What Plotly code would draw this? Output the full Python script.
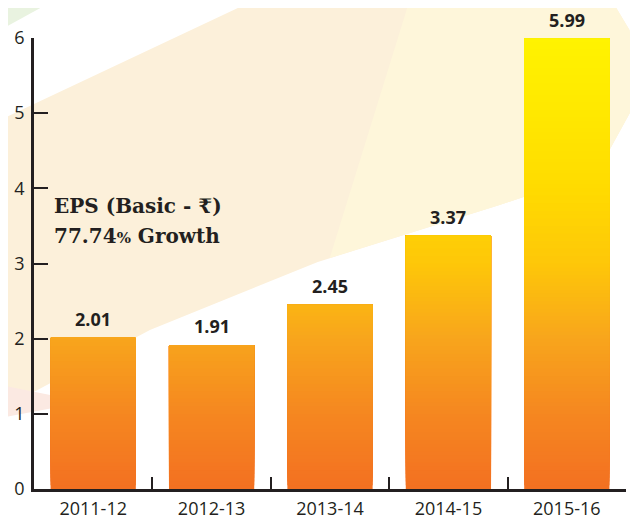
import plotly.graph_objects as go

categories = ["2011-12", "2012-13", "2013-14", "2014-15", "2015-16"]
eps_values = [2.01, 1.91, 2.45, 3.37, 5.99]
value_labels = ["2.01", "1.91", "2.45", "3.37", "5.99"]
y_ticks = [0, 1, 2, 3, 4, 5, 6]
title_line1 = "EPS (Basic - ₹)"
title_line2 = "77.74<span style='font-size:15px'>%</span> Growth"

# gradient stops: (value, rgb)
grad_stops = [
    (0.0, (243, 112, 33)),
    (1.0, (245, 135, 32)),
    (2.0, (248, 165, 28)),
    (3.0, (254, 199, 9)),
    (4.0, (255, 219, 0)),
    (5.0, (255, 232, 0)),
    (6.0, (255, 243, 0)),
]


def grad_color(v):
    for (v0, c0), (v1, c1) in zip(grad_stops[:-1], grad_stops[1:]):
        if v <= v1:
            t = (v - v0) / (v1 - v0)
            c = [round(a + (b - a) * t) for a, b in zip(c0, c1)]
            return f"rgb({c[0]},{c[1]},{c[2]})"
    c = grad_stops[-1][1]
    return f"rgb({c[0]},{c[1]},{c[2]})"


# page body has an 8px margin; figure is sized to fill the rest
OFF = 8
W, H = 638, 519
L, R, T, B = 34, 11.5, 38, 30          # in screenshot pixels
pw, ph = W - L - R, H - T - B


def px(x):
    return (x - L) / pw


def py(y):
    return (H - B - y) / ph


fig = go.Figure()

step = 0.05
nseg = int(max(eps_values) / step) + 1
for k in range(nseg):
    base = k * step
    xs, hs, bs = [], [], []
    for c, v in zip(categories, eps_values):
        if v > base + 1e-9:
            xs.append(c)
            hs.append(v - base)
            bs.append(base)
    if not xs:
        continue
    fig.add_trace(go.Bar(
        x=xs, y=hs, base=bs, width=0.72,
        marker=dict(color=grad_color(base + step / 2), line=dict(width=0)),
        showlegend=False, hoverinfo="skip",
    ))

for c, v, t in zip(categories, eps_values, value_labels):
    fig.add_annotation(x=c, y=v, text=t, showarrow=False, yanchor="bottom", yshift=5,
                       font=dict(family="Open Sans", size=18, color="#231F20", weight="bold"))

for line, ypix in [(title_line1, 206), (title_line2, 236)]:
    fig.add_annotation(xref="paper", yref="paper", x=px(52), y=py(ypix), xanchor="left",
                       yanchor="middle", align="left", showarrow=False, text=f"<b>{line}</b>",
                       font=dict(family="DejaVu Serif", size=20, color="#231F20"))


# decorative background shapes
def path(points):
    return "M " + " L ".join(f"{px(x)},{py(y)}" for x, y in points) + " Z"


cream_pts = [(0, 120), (255, 0), (612, 0), (630, 30), (638, 70), (632, 110), (610, 150),
             (560, 185), (500, 205), (318, 262), (150, 330), (0, 410)]
fig.add_shape(type="path", xref="paper", yref="paper", path=path(cream_pts),
              fillcolor="#FCF0DA", line=dict(width=0), layer="below")
cream2_pts = [(410, 0), (612, 0), (630, 30), (638, 70), (632, 110), (610, 150),
              (560, 185), (500, 205), (330, 258)]
fig.add_shape(type="path", xref="paper", yref="paper", path=path(cream2_pts),
              fillcolor="#FEF6DA", line=dict(width=0), layer="below")
green_pts = [(0, 0), (55, 0), (0, 30)]
fig.add_shape(type="path", xref="paper", yref="paper", path=path(green_pts),
              fillcolor="#E9F3E0", line=dict(width=0), layer="below")
pink_pts = [(0, 385), (85, 402), (0, 418)]
fig.add_shape(type="path", xref="paper", yref="paper", path=path(pink_pts),
              fillcolor="#FBE9E2", line=dict(width=0), layer="below")

fig.update_layout(
    width=W - OFF, height=H - OFF,
    margin=dict(l=L - OFF, r=R, t=T - OFF, b=B, pad=0, autoexpand=False),
    paper_bgcolor="white", plot_bgcolor="rgba(0,0,0,0)",
    barmode="overlay",
    showlegend=False,
    font=dict(family="Open Sans", color="#231F20"),
)
fig.update_xaxes(
    type="category", range=[-0.5, 4.5], tickson="boundaries", automargin=False,
    showline=True, linecolor="#231F20", linewidth=2.5,
    ticks="inside", ticklen=12, tickwidth=2, tickcolor="#231F20",
    tickfont=dict(family="Open Sans", size=18, color="#231F20"),
    showgrid=False, zeroline=False, ticklabelstandoff=2,
)
fig.update_yaxes(
    range=[0, 6], tickvals=y_ticks, automargin=False,
    showline=True, linecolor="#231F20", linewidth=2.5,
    ticks="inside", ticklen=14, tickwidth=2, tickcolor="#231F20",
    tickfont=dict(family="Open Sans", size=18, color="#231F20"),
    showgrid=False, zeroline=False, ticklabelstandoff=3,
)
for tr in fig.data:
    tr.cliponaxis = False

fig.write_html("out.html")
